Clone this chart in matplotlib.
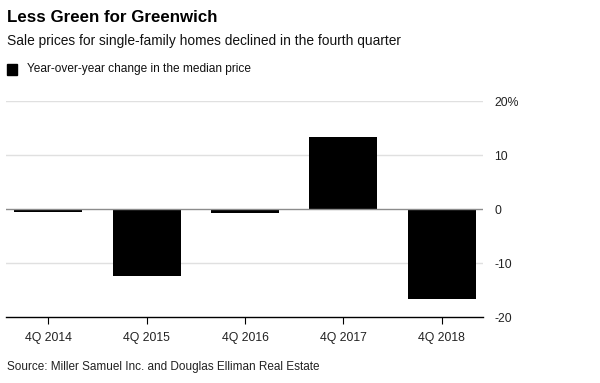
import matplotlib
matplotlib.use("Agg")
import matplotlib.pyplot as plt
from matplotlib.patches import Rectangle

categories = ["4Q 2014", "4Q 2015", "4Q 2016", "4Q 2017", "4Q 2018"]
values = [-0.5, -12.4, -0.7, 13.3, -16.6]
yticks = [-20, -10, 0, 10, 20]
ytick_labels = ["-20", "-10", "0", "10", "20%"]

plt.rcParams['font.family'] = ['Liberation Sans', 'DejaVu Sans']

W, H = 600, 383
fig = plt.figure(figsize=(W / 100, H / 100), dpi=100)
ax = fig.add_axes([6 / W, 1 - 317 / H, (483 - 6) / W, (317 - 101) / H])

x = list(range(len(categories)))
ax.bar(x, values, width=0.69, color="black", zorder=3)
ax.set_xlim(-0.43, 4.42)
ax.set_ylim(-20, 20)

for t in yticks:
    if t == 0:
        ax.axhline(t, color="#8c8c8c", lw=1.0, zorder=4)
    elif t == -20:
        pass
    else:
        ax.axhline(t, color="#e0e0e0", lw=1.0, zorder=1)

ax.yaxis.tick_right()
ax.set_yticks(yticks)
ax.set_yticklabels(ytick_labels)
ax.tick_params(axis="y", length=0, pad=8, labelsize=8.8, labelcolor="#222222")
ax.set_xticks(x)
ax.set_xticklabels(categories)
ax.tick_params(axis="x", length=5, width=0.8, color="black", pad=6, labelsize=8.8, labelcolor="#222222")
for s in ["top", "left", "right"]:
    ax.spines[s].set_visible(False)
ax.spines["bottom"].set_color("black")
ax.spines["bottom"].set_linewidth(1.0)

fig.text(7 / W, 1 - 17 / H, "Less Green for Greenwich", fontsize=12.2, fontweight="bold",
         va="center", ha="left", color="black")
fig.text(7 / W, 1 - 41 / H, "Sale prices for single-family homes declined in the fourth quarter",
         fontsize=9.9, va="center", ha="left", color="#111111")
fig.patches.append(Rectangle((7 / W, 1 - 75 / H), 10 / W, 11 / H, transform=fig.transFigure,
                             color="black", figure=fig))
fig.text(27 / W, 1 - 69 / H, "Year-over-year change in the median price",
         fontsize=8.6, va="center", ha="left", color="#111111")
fig.text(7 / W, 1 - 367 / H, "Source: Miller Samuel Inc. and Douglas Elliman Real Estate",
         fontsize=8.5, va="center", ha="left", color="#222222")

fig.savefig("out.png", dpi=100)
